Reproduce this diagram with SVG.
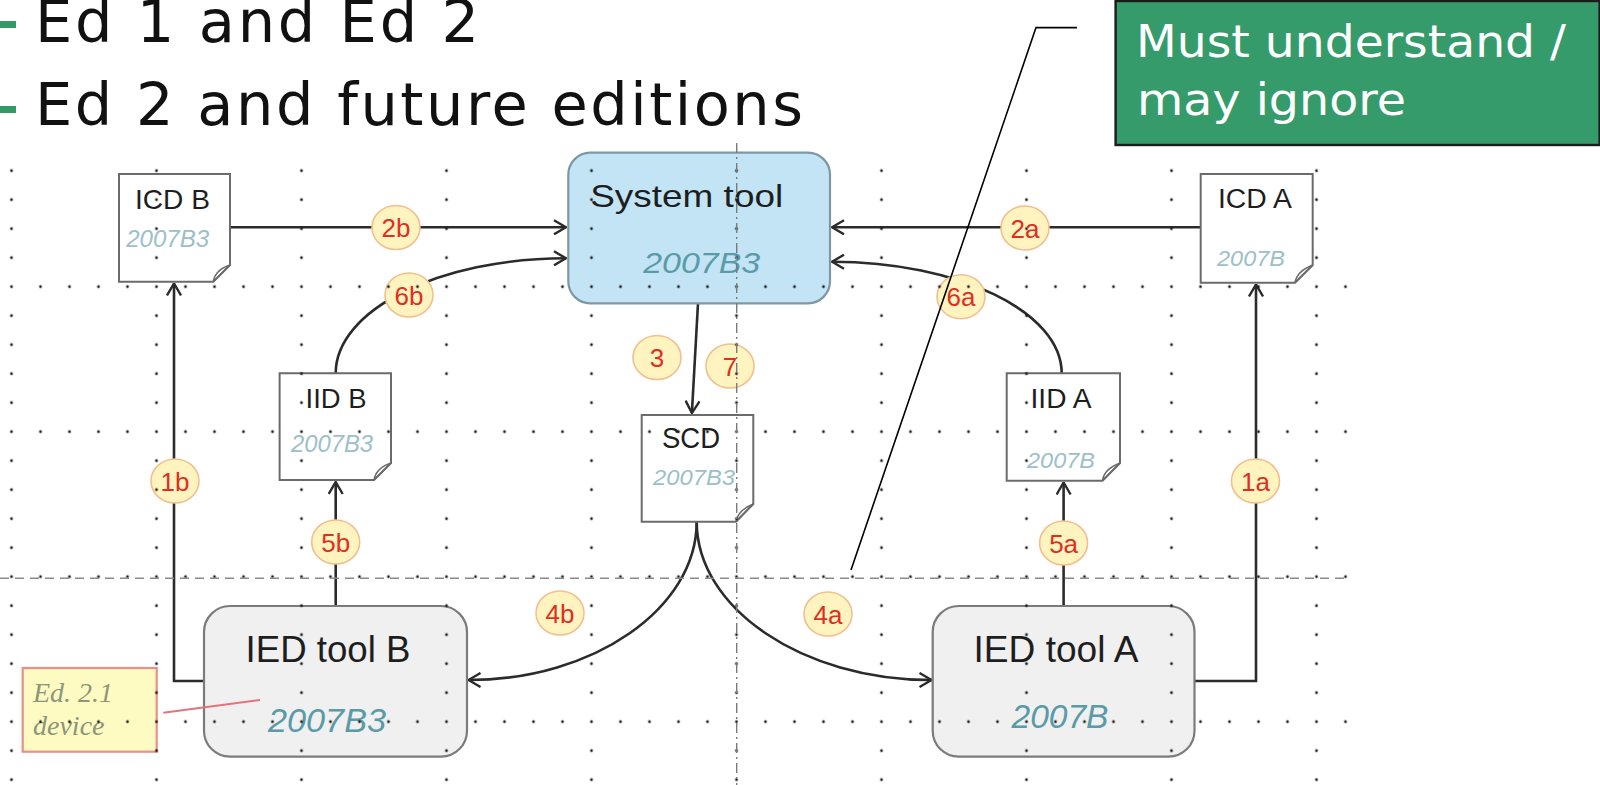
<svg xmlns="http://www.w3.org/2000/svg" width="1600" height="785" viewBox="0 0 1600 785">
<style>
.ttl{font-family:"DejaVu Sans","Liberation Sans",sans-serif;font-size:59px;fill:#111}
.gtx{font-family:"DejaVu Sans","Liberation Sans",sans-serif;font-size:44px;fill:#fff}
.doc{fill:#fff;stroke:#6b6b6b;stroke-width:2}
.fold{fill:none;stroke:#6b6b6b;stroke-width:1.5}
.tool{fill:#f0f0f0;stroke:#7b7b7b;stroke-width:2.2}
.sys{fill:#c2e4f5;stroke:#7d98a4;stroke-width:2.2}
.nm{font-family:"Liberation Sans",Arial,sans-serif;fill:#1e1e1e;text-anchor:middle}
.ver{font-family:"Liberation Sans",Arial,sans-serif;font-style:italic;fill:#9cc0c9;text-anchor:middle}
.verd{font-family:"Liberation Sans",Arial,sans-serif;font-style:italic;fill:#5a9ba8;text-anchor:middle}
.con{fill:none;stroke:#2b2b2b;stroke-width:2.6}
.arr{marker-end:url(#ah)}
.lbl ellipse{fill:#fff3c0;stroke:#f0c08e;stroke-width:1.6}
.lbl text{font-family:"Liberation Sans",Arial,sans-serif;font-size:26px;fill:#de2f1f;text-anchor:middle}
</style>
<defs>
<marker id="ah" markerUnits="userSpaceOnUse" viewBox="0 0 14 16" refX="13" refY="8" markerWidth="14" markerHeight="16" orient="auto">
<path d="M1,1 L13,8 L1,15" fill="none" stroke="#2b2b2b" stroke-width="2.4"/>
</marker>
<pattern id="grid" patternUnits="userSpaceOnUse" x="-2.5" y="127.7" width="145" height="145">
<g fill="#1a1a1a">
<circle cx="14" cy="14" r="1.4"/><circle cx="14" cy="43" r="1.4"/><circle cx="14" cy="72" r="1.4"/><circle cx="14" cy="101" r="1.4"/><circle cx="14" cy="130" r="1.4"/>
<circle cx="43" cy="14" r="1.4"/><circle cx="72" cy="14" r="1.4"/><circle cx="101" cy="14" r="1.4"/><circle cx="130" cy="14" r="1.4"/>
</g>
</pattern>
</defs>
<rect x="0" y="0" width="1600" height="785" fill="#fff"/>

<g id="title">
<rect x="0" y="21" width="16" height="7" fill="#339966"/>
<rect x="0" y="106" width="16" height="7" fill="#339966"/>
<text class="ttl" x="35" y="42" textLength="444" lengthAdjust="spacing">Ed 1 and Ed 2</text>
<text class="ttl" x="35" y="125" textLength="768" lengthAdjust="spacing">Ed 2 and future editions</text>
</g>

<g id="connectors">
<path class="con arr" d="M230,227.3 H566"/>
<path class="con arr" d="M1200.7,227.3 H832"/>
<path class="con arr" d="M335.7,373.3 C335.7,309.8 439.3,258.3 566,258.3"/>
<path class="con arr" d="M1061.7,373.3 C1061.7,311.7 958.3,261.7 832,261.7"/>
<path class="con arr" d="M698,303.3 L691.9,413"/>
<path class="con arr" d="M204,681 H174 V283.5"/>
<path class="con arr" d="M1194.5,681 H1256 V284.5"/>
<path class="con arr" d="M335.7,606 V482"/>
<path class="con arr" d="M1063.6,606 V482.5"/>
<path class="con arr" d="M696.7,521.7 C696.7,608 594,680 468.5,680"/>
<path class="con arr" d="M696.7,521.7 C696.7,608 802,680 931.5,680"/>
</g>

<g id="icd-b">
<path class="doc" d="M119,174 H230 V265 L213.3,281.7 H119 Z"/>
<path class="fold" d="M213.3,281.7 Q215,270 230,265 Q221,274 213.3,281.7"/>
<text class="nm" x="172.5" y="209" font-size="28" textLength="75" lengthAdjust="spacingAndGlyphs">ICD B</text>
<text class="ver" x="167.7" y="247.3" font-size="23" textLength="83" lengthAdjust="spacingAndGlyphs">2007B3</text>
</g>

<g id="system-tool">
<rect class="sys" x="568.3" y="152.7" width="261.7" height="150.6" rx="22"/>
<text class="nm" x="686.7" y="206.7" font-size="32" textLength="193" lengthAdjust="spacingAndGlyphs">System tool</text>
<text class="verd" x="701.7" y="273.3" font-size="29" textLength="117" lengthAdjust="spacingAndGlyphs">2007B3</text>
</g>

<g id="icd-a">
<path class="doc" d="M1200.7,174 H1312.7 V265 L1295,282.7 H1200.7 Z"/>
<path class="fold" d="M1295,282.7 Q1297,271 1312.7,265 Q1303,275 1295,282.7"/>
<text class="nm" x="1255" y="208.3" font-size="27" textLength="74" lengthAdjust="spacingAndGlyphs">ICD A</text>
<text class="ver" x="1251" y="266" font-size="22" textLength="68" lengthAdjust="spacingAndGlyphs">2007B</text>
</g>

<g id="iid-b">
<path class="doc" d="M279.6,373.3 H391 V463 L374,480 H279.6 Z"/>
<path class="fold" d="M374,480 Q376,468 391,463 Q382,472 374,480"/>
<text class="nm" x="336" y="408.3" font-size="28" textLength="61" lengthAdjust="spacingAndGlyphs">IID B</text>
<text class="ver" x="332" y="451.7" font-size="23" textLength="82" lengthAdjust="spacingAndGlyphs">2007B3</text>
</g>

<g id="iid-a">
<path class="doc" d="M1006.7,373.3 H1120 V463 L1102.5,480.7 H1006.7 Z"/>
<path class="fold" d="M1102.5,480.7 Q1104,469 1120,463 Q1111,472 1102.5,480.7"/>
<text class="nm" x="1061" y="408.3" font-size="27" textLength="61" lengthAdjust="spacingAndGlyphs">IID A</text>
<text class="ver" x="1061" y="468.3" font-size="22" textLength="68" lengthAdjust="spacingAndGlyphs">2007B</text>
</g>

<g id="scd">
<path class="doc" d="M641.7,415 H753.3 V504 L736,521.7 H641.7 Z"/>
<path class="fold" d="M736,521.7 Q738,510 753.3,504 Q744,513 736,521.7"/>
<text class="nm" x="691" y="448.3" font-size="29" textLength="58" lengthAdjust="spacingAndGlyphs">SCD</text>
<text class="ver" x="694" y="485" font-size="22" textLength="82" lengthAdjust="spacingAndGlyphs">2007B3</text>
</g>

<g id="ied-tool-b">
<rect class="tool" x="204" y="606" width="263" height="150.7" rx="26"/>
<text class="nm" x="328" y="661.7" font-size="36" textLength="165" lengthAdjust="spacingAndGlyphs">IED tool B</text>
<text class="verd" x="327" y="731.7" font-size="33" textLength="118" lengthAdjust="spacingAndGlyphs">2007B3</text>
</g>

<g id="ied-tool-a">
<rect class="tool" x="932.7" y="606" width="261.8" height="150.7" rx="26"/>
<text class="nm" x="1056" y="661.7" font-size="36" textLength="165" lengthAdjust="spacingAndGlyphs">IED tool A</text>
<text class="verd" x="1060" y="728.3" font-size="33" textLength="97" lengthAdjust="spacingAndGlyphs">2007B</text>
</g>

<g id="ed21-note">
<rect x="22.7" y="668" width="134" height="83.7" fill="#fdfbc2" stroke="#ea8f88" stroke-width="2.2"/>
<text x="33" y="701.7" font-family="'Liberation Serif','Times New Roman',serif" font-style="italic" font-size="28" fill="#8d957a">Ed. 2.1</text>
<text x="33" y="735" font-family="'Liberation Serif','Times New Roman',serif" font-style="italic" font-size="28" fill="#8d957a">device</text>
<path d="M163.3,712.7 L260,700" stroke="#e2737f" stroke-width="2"/>
</g>

<g id="step-labels" class="lbl">
<g id="l2b"><ellipse cx="396" cy="227.5" rx="24" ry="22"/><text x="396" y="237">2b</text></g>
<g id="l6b"><ellipse cx="409" cy="295" rx="24" ry="22"/><text x="409" y="304.5">6b</text></g>
<g id="l2a"><ellipse cx="1025" cy="228" rx="24" ry="22"/><text x="1025" y="237.5">2a</text></g>
<g id="l6a"><ellipse cx="961" cy="296.7" rx="24" ry="22"/><text x="961" y="306.2">6a</text></g>
<g id="l3"><ellipse cx="657" cy="357.5" rx="24" ry="22"/><text x="657" y="367">3</text></g>
<g id="l7"><ellipse cx="730" cy="366" rx="24" ry="22"/><text x="730" y="375.5">7</text></g>
<g id="l1b"><ellipse cx="175" cy="481" rx="24" ry="22"/><text x="175" y="490.5">1b</text></g>
<g id="l1a"><ellipse cx="1255.5" cy="481" rx="24" ry="22"/><text x="1255.5" y="490.5">1a</text></g>
<g id="l5b"><ellipse cx="335.7" cy="542" rx="24" ry="22"/><text x="335.7" y="551.5">5b</text></g>
<g id="l5a"><ellipse cx="1063.6" cy="543" rx="24" ry="22"/><text x="1063.6" y="552.5">5a</text></g>
<g id="l4b"><ellipse cx="560" cy="613" rx="24" ry="22"/><text x="560" y="622.5">4b</text></g>
<g id="l4a"><ellipse cx="828" cy="614" rx="24" ry="22"/><text x="828" y="623.5">4a</text></g>
</g>

<g id="grid-overlay">
<rect x="0" y="150" width="1350" height="635" fill="url(#grid)"/>
<line x1="0" y1="578.3" x2="1350" y2="578.3" stroke="#8a8a8a" stroke-width="1.6" stroke-dasharray="9 6"/>
<line x1="736.7" y1="143" x2="736.7" y2="785" stroke="#7a7a7a" stroke-width="1.4" stroke-dasharray="10 4 2 4"/>
</g>

<g id="callout">
<rect x="1115.6" y="1" width="484" height="144" fill="#359b6a" stroke="#1b1b1b" stroke-width="2.4"/>
<text class="gtx" x="1136" y="56.7" textLength="430" lengthAdjust="spacingAndGlyphs">Must understand /</text>
<text class="gtx" x="1137" y="115" textLength="269" lengthAdjust="spacingAndGlyphs">may ignore</text>
<polyline points="1077,27.6 1036,27.6 851,570" fill="none" stroke="#000" stroke-width="1.6"/>
</g>
</svg>
